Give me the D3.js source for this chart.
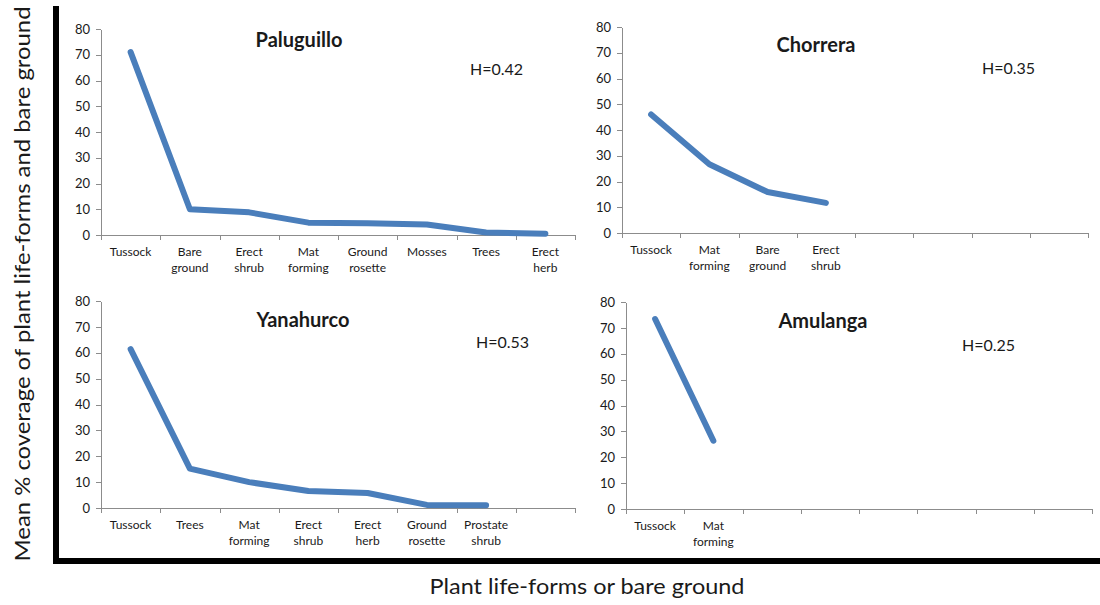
<!DOCTYPE html>
<html lang="en">
<head>
<meta charset="utf-8">
<title>Plant life-forms coverage</title>
<script src="https://d3js.org/d3.v7.min.js"></script>
<style>
  body { margin: 0; background: #fff; }
  svg text { font-family: "Lato", "Open Sans", sans-serif; fill: #1a1a1a; }
  .axis path, .axis line { stroke: #8c8c8c; shape-rendering: crispEdges; }
  .axis text { font-size: 13px; }
  .xlab { font-size: 12px; }
  .title { font-size: 20px; font-weight: bold; }
  .hval { font-size: 16px; }
</style>
</head>
<body>
<div id="chart"></div>
<script>
// data
var paluguilloCats = ["Tussock", "Bare ground", "Erect shrub", "Mat forming", "Ground rosette", "Mosses", "Trees", "Erect herb"];
var paluguilloVals = [71, 10, 8.8, 4.8, 4.6, 4.1, 1, 0.5];

var chorreraCats = ["Tussock", "Mat forming", "Bare ground", "Erect shrub"];
var chorreraVals = [46, 26.7, 15.9, 11.7];

var yanahurcoCats = ["Tussock", "Trees", "Mat forming", "Erect shrub", "Erect herb", "Ground rosette", "Prostate shrub"];
var yanahurcoVals = [61.4, 15.2, 10, 6.6, 5.8, 1.2, 1.1];

var amulangaCats = ["Tussock", "Mat forming"];
var amulangaVals = [73.4, 26.4];

var yTicks = [0, 10, 20, 30, 40, 50, 60, 70, 80];
var slots = 8;

var panels = [
  { name: "Paluguillo", h: "H=0.42", cats: paluguilloCats, vals: paluguilloVals,
    x0: 101, x1: 575, top: 29, bottom: 235, tx: 299, ty: 47, hx: 470, hy: 75 },
  { name: "Chorrera", h: "H=0.35", cats: chorreraCats, vals: chorreraVals,
    x0: 622, x1: 1088, top: 27, bottom: 233, tx: 816, ty: 52, hx: 982, hy: 74 },
  { name: "Yanahurco", h: "H=0.53", cats: yanahurcoCats, vals: yanahurcoVals,
    x0: 101, x1: 575, top: 301, bottom: 508, tx: 303, ty: 327, hx: 476, hy: 348 },
  { name: "Amulanga", h: "H=0.25", cats: amulangaCats, vals: amulangaVals,
    x0: 626, x1: 1092, top: 302, bottom: 509, tx: 823, ty: 328, hx: 962, hy: 351 }
];

var svg = d3.select("#chart").append("svg")
  .attr("width", 1100)
  .attr("height", 605);

panels.forEach(function(p) {
  var x = d3.scaleLinear().domain([0, slots]).range([p.x0, p.x1]);
  var y = d3.scaleLinear().domain([0, 80]).range([p.bottom, p.top]);

  var g = svg.append("g");

  // y axis
  g.append("g")
    .attr("class", "axis")
    .attr("transform", "translate(" + p.x0 + ",0)")
    .call(d3.axisLeft(y).tickValues(yTicks).tickSize(5).tickPadding(6).tickSizeOuter(0));

  // x axis, ticks between categories
  g.append("g")
    .attr("class", "axis")
    .attr("transform", "translate(0," + p.bottom + ")")
    .call(d3.axisBottom(x).tickValues(d3.range(0, slots + 1)).tickFormat("").tickSize(5).tickSizeOuter(0));

  // category labels (wrapped on spaces)
  p.cats.forEach(function(c, i) {
    var words = c.split(" ");
    var t = g.append("text")
      .attr("class", "xlab")
      .attr("text-anchor", "middle")
      .attr("x", x(i + 0.5))
      .attr("y", p.bottom + 21);
    words.forEach(function(w, j) {
      t.append("tspan")
        .attr("x", x(i + 0.5))
        .attr("dy", j === 0 ? 0 : 16)
        .text(w);
    });
  });

  // series line
  var line = d3.line()
    .x(function(d, i) { return x(i + 0.5); })
    .y(function(d) { return y(d); });

  g.append("path")
    .datum(p.vals)
    .attr("d", line)
    .attr("fill", "none")
    .attr("stroke", "#4a7ebb")
    .attr("stroke-width", 6)
    .attr("stroke-linecap", "round")
    .attr("stroke-linejoin", "round");

  g.append("text")
    .attr("class", "title")
    .attr("text-anchor", "middle")
    .attr("x", p.tx)
    .attr("y", p.ty)
    .text(p.name);

  g.append("text")
    .attr("class", "hval")
    .attr("x", p.hx)
    .attr("y", p.hy)
    .text(p.h);
});

// outer frame (left and bottom)
svg.append("path")
  .attr("d", "M56,6 V561 H1100")
  .attr("fill", "none")
  .attr("stroke", "#000")
  .attr("stroke-width", 6);

// shared axis titles
svg.append("text")
  .attr("transform", "translate(30,284) rotate(-90)")
  .attr("text-anchor", "middle")
  .attr("textLength", 555)
  .attr("lengthAdjust", "spacingAndGlyphs")
  .style("font-size", "22px")
  .text("Mean % coverage of plant life-forms and bare ground");

svg.append("text")
  .attr("x", 587)
  .attr("y", 594)
  .attr("text-anchor", "middle")
  .attr("textLength", 315)
  .attr("lengthAdjust", "spacingAndGlyphs")
  .style("font-size", "22px")
  .text("Plant life-forms or bare ground");
</script>
</body>
</html>
